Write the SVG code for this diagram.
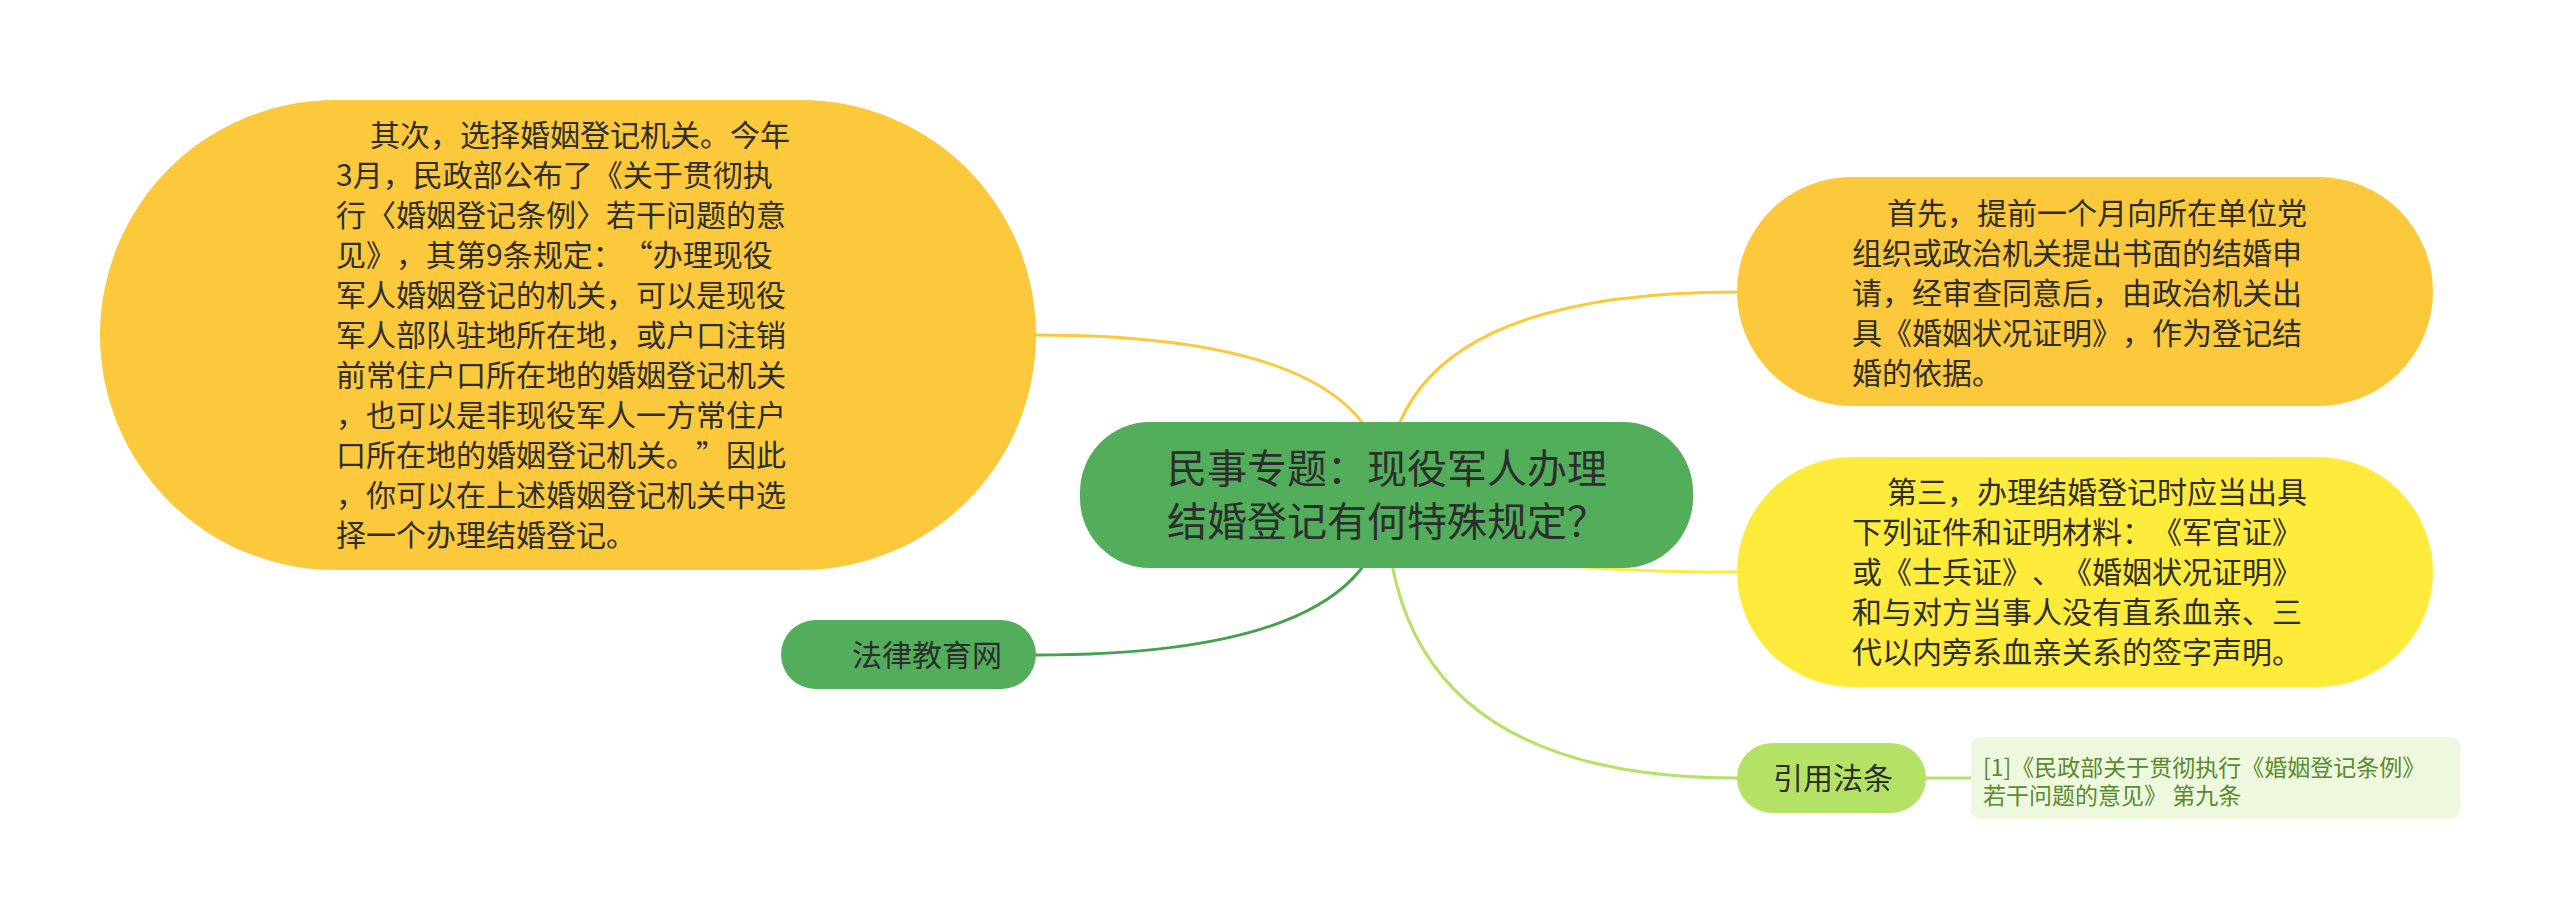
<svg xmlns="http://www.w3.org/2000/svg" width="2560" height="920" viewBox="0 0 2560 920">
<style>
.t{font-family:"Noto Sans CJK SC","Noto Sans",sans-serif;fill:#2e2e2e;text-spacing-trim:space-all;font-feature-settings:"fwid" 0}
.b{font-size:30px}
.r{font-size:40px}
.c{font-size:23px;fill:#5a8a2c}
.ln{fill:none;stroke-width:3;stroke-linecap:round}
</style>
<rect width="2560" height="920" fill="#ffffff"/>
<g id="connectors">
<path class="ln" stroke="#fcc83c" d="M1386 495 Q1386 335 1036 335"/>
<path class="ln" stroke="#fcc83c" d="M1386 495 Q1386 292 1737 292"/>
<path class="ln" stroke="#ffeb3b" d="M1386 495 Q1386 572 1737 572"/>
<path class="ln" stroke="#45a04f" d="M1386 495 Q1386 655 1036 655"/>
<path class="ln" stroke="#b4e264" d="M1386 495 Q1386 778 1737 778"/>
<path class="ln" stroke="#b4e264" d="M1926 778 L1971 778"/>
</g>
<g id="node-left">
<rect x="100" y="100" width="936" height="470" rx="235" ry="235" fill="#fcc83c"/>
<text class="t b">
<tspan x="370" y="146">其次，选择婚姻登记机关。今年</tspan>
<tspan x="336" y="186">3月，民政部公布了《关于贯彻执</tspan>
<tspan x="336" y="226">行〈婚姻登记条例〉若干问题的意</tspan>
<tspan x="336" y="266">见》，其第9条规定：“办理现役</tspan>
<tspan x="336" y="306">军人婚姻登记的机关，可以是现役</tspan>
<tspan x="336" y="346">军人部队驻地所在地，或户口注销</tspan>
<tspan x="336" y="386">前常住户口所在地的婚姻登记机关</tspan>
<tspan x="336" y="426">，也可以是非现役军人一方常住户</tspan>
<tspan x="336" y="466">口所在地的婚姻登记机关。”因此</tspan>
<tspan x="336" y="506">，你可以在上述婚姻登记机关中选</tspan>
<tspan x="336" y="546">择一个办理结婚登记。</tspan>
</text>
</g>
<g id="node-root">
<rect x="1080" y="422" width="613" height="146" rx="70" ry="70" fill="#52ae5b"/>
<text class="t r">
<tspan x="1167" y="483">民事专题：现役军人办理</tspan>
<tspan x="1167" y="536">结婚登记有何特殊规定？</tspan>
</text>
</g>
<g id="node-first">
<rect x="1737" y="177" width="696" height="229" rx="114.5" ry="114.5" fill="#fcc83c"/>
<text class="t b">
<tspan x="1887" y="224">首先，提前一个月向所在单位党</tspan>
<tspan x="1852" y="264">组织或政治机关提出书面的结婚申</tspan>
<tspan x="1852" y="304">请，经审查同意后，由政治机关出</tspan>
<tspan x="1852" y="344">具《婚姻状况证明》，作为登记结</tspan>
<tspan x="1852" y="384">婚的依据。</tspan>
</text>
</g>
<g id="node-third">
<rect x="1737" y="457" width="696" height="230" rx="115" ry="115" fill="#ffeb3b"/>
<text class="t b">
<tspan x="1887" y="503">第三，办理结婚登记时应当出具</tspan>
<tspan x="1852" y="543">下列证件和证明材料：《军官证》</tspan>
<tspan x="1852" y="583">或《士兵证》、《婚姻状况证明》</tspan>
<tspan x="1852" y="623">和与对方当事人没有直系血亲、三</tspan>
<tspan x="1852" y="663">代以内旁系血亲关系的签字声明。</tspan>
</text>
</g>
<g id="node-site">
<rect x="781" y="620" width="255" height="69" rx="34.5" ry="34.5" fill="#52ae5b"/>
<text class="t b" x="852" y="666">法律教育网</text>
</g>
<g id="node-cite">
<rect x="1737" y="743" width="189" height="70" rx="35" ry="35" fill="#b4e264"/>
<text class="t b" x="1773" y="789">引用法条</text>
</g>
<g id="node-law">
<rect x="1971" y="737" width="489" height="82" rx="9" ry="9" fill="#eef8df"/>
<text class="t c">
<tspan x="1983" y="776">[1]《民政部关于贯彻执行《婚姻登记条例》</tspan>
<tspan x="1983" y="804">若干问题的意见》 第九条</tspan>
</text>
</g>
</svg>
